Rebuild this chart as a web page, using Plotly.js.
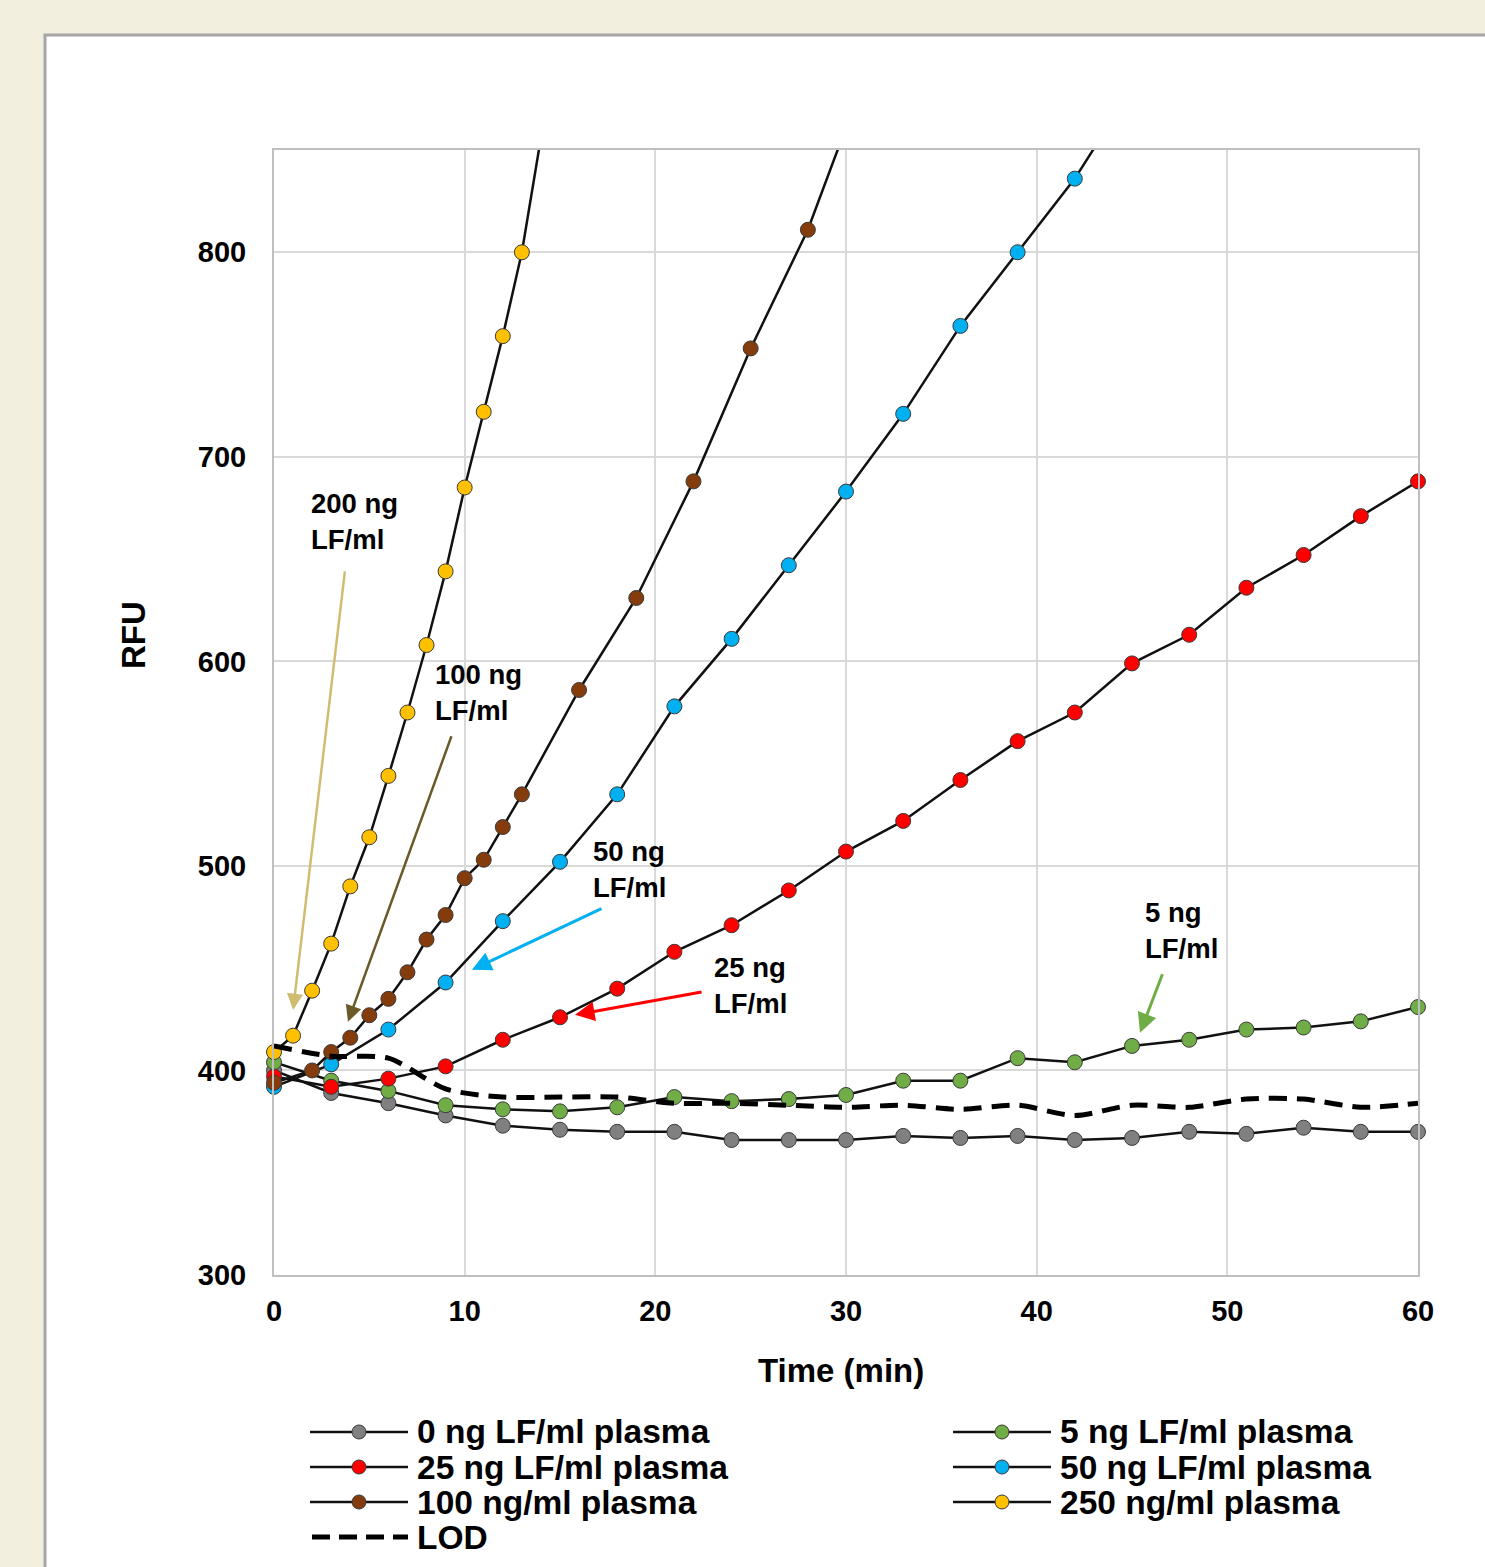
<!DOCTYPE html>
<html>
<head>
<meta charset="utf-8">
<script src="https://cdn.plot.ly/plotly-3.0.1.min.js"></script>
<style>
html,body{margin:0;padding:0;background:#f3efdf;}
#chart{width:1485px;height:1567px;}
</style>
</head>
<body>
<div id="chart"></div>
<script>
// ---- data ----
const time3 = [0,3,6,9,12,15,18,21,24,27,30,33,36,39,42,45,48,51,54,57,60];
const time50 = [0,3,6,9,12,15,18,21,24,27,30,33,36,39,42,45];
const time100 = [0,2,3,4,5,6,7,8,9,10,11,12,13,16,19,22,25,28,31];
const time250 = [0,1,2,3,4,5,6,7,8,9,10,11,12,13,14];

const rfu0   = [400,389,384,378,373,371,370,370,366,366,366,368,367,368,366,367,370,369,372,370,370];
const rfu5   = [404,395,390,383,381,380,382,387,385,386,388,395,395,406,404,412,415,420,421,424,431];
const rfu25  = [397,392,396,402,415,426,440,458,471,488,507,522,542,561,575,599,613,636,652,671,688];
const rfu50  = [392,403,420,443,473,502,535,578,611,647,683,721,764,800,836,880];
const rfu100 = [394,400,409,416,427,435,448,464,476,494,503,519,535,586,631,688,753,811,886];
const rfu250 = [409,417,439,462,490,514,544,575,608,644,685,722,759,800,856];
const lod    = [412,407,406,391,387,387,387,384,384,383,382,383,381,383,378,383,382,386,386,382,384];

const seriesNames = ['0 ng LF/ml plasma','5 ng LF/ml plasma','25 ng LF/ml plasma','50 ng LF/ml plasma','100 ng/ml plasma','250 ng/ml plasma','LOD'];
const xTicks = [0,10,20,30,40,50,60];
const yTicks = [300,400,500,600,700,800];

// ---- styling ----
const Y_MAX = 850;
const FONT = 'Liberation Sans, Arial, sans-serif';
const colors = {c0:'#808080', c5:'#70ad47', c25:'#ff0000', c50:'#00b0f0', c100:'#843c0c', c250:'#ffc000'};

function series(x, y, name, color){
  return {
    type:'scatter', mode:'lines+markers', x:x, y:y, name:name,
    cliponaxis:false,
    line:{color:'#111111', width:2.5},
    marker:{color:color, opacity:1, size:y.map(v => v > Y_MAX ? 0 : 15), sizemode:'diameter', sizeref:1,
            line:{color:'#3a3a3a', width:1}},
    showlegend:false
  };
}

const traces = [
  series(time3, rfu0, seriesNames[0], colors.c0),
  series(time3, rfu5, seriesNames[1], colors.c5),
  series(time3, rfu25, seriesNames[2], colors.c25),
  series(time50, rfu50, seriesNames[3], colors.c50),
  series(time100, rfu100, seriesNames[4], colors.c100),
  series(time250, rfu250, seriesNames[5], colors.c250),
  {type:'scatter', mode:'lines', x:time3, y:lod, name:seriesNames[6],
   line:{color:'#000000', width:5, dash:'18px,10px', shape:'spline', smoothing:0.8}, showlegend:false}
];

// pixel -> paper helpers (plot area 274..1418 x, 150..1275 y)
const L=274, R=1418, T=150, B=1275;
const px = x => (x-L)/(R-L);
const py = y => (B-y)/(B-T);

const shapes = [
  // white panel with grey border
  {type:'rect', xref:'paper', yref:'paper', x0:px(45), x1:px(1530), y0:py(35), y1:py(1620),
   fillcolor:'#ffffff', line:{color:'#a6a6a6', width:3}, layer:'below'}
];
const annotations = [];

// custom legend
const legendRows = [
  {name:seriesNames[0], color:colors.c0, col:0, row:0},
  {name:seriesNames[2], color:colors.c25, col:0, row:1},
  {name:seriesNames[4], color:colors.c100, col:0, row:2},
  {name:seriesNames[6], color:null, col:0, row:3},
  {name:seriesNames[1], color:colors.c5, col:1, row:0},
  {name:seriesNames[3], color:colors.c50, col:1, row:1},
  {name:seriesNames[5], color:colors.c250, col:1, row:2}
];
legendRows.forEach(e => {
  const x0 = e.col===0 ? 310 : 953;
  const yy = 1432 + 35*e.row;
  if (e.color) {
    shapes.push({type:'line', xref:'paper', yref:'paper', x0:px(x0), x1:px(x0+98), y0:py(yy), y1:py(yy),
      line:{color:'#111111', width:2.5}});
    shapes.push({type:'circle', xref:'paper', yref:'paper', x0:px(x0+42), x1:px(x0+56), y0:py(yy+7), y1:py(yy-7),
      fillcolor:e.color, line:{color:'#3a3a3a', width:1}});
  } else {
    shapes.push({type:'line', xref:'paper', yref:'paper', x0:px(x0+2), x1:px(x0+98), y0:py(yy), y1:py(yy),
      line:{color:'#000000', width:5, dash:'18px,9px'}});
  }
  annotations.push({xref:'paper', yref:'paper', x:px(x0+105), y:py(yy), xanchor:'left', yanchor:'middle',
    text:e.name, showarrow:false, font:{family:FONT, size:33.5, color:'#000', weight:700}});
});

// in-plot labels with arrows
const labels = [
  {text:'200 ng<br>LF/ml', lx:309, ly:521, hx:1.0, hy:429.6, ax:52, ay:-440, color:'#d1bd72', w:2.5},
  {text:'100 ng<br>LF/ml', lx:433, ly:692, hx:3.88, hy:423.8, ax:104, ay:-287, color:'#6b5a28', w:2.5},
  {text:'50 ng<br>LF/ml', lx:591, ly:869, hx:10.38, hy:449.2, ax:131, ay:-62, color:'#00b0f0', w:3},
  {text:'25 ng<br>LF/ml', lx:712, ly:985, hx:15.79, hy:427.2, ax:128, ay:-23, color:'#ff0000', w:3},
  {text:'5 ng<br>LF/ml', lx:1143, ly:930, hx:45.42, hy:418.4, ax:23, ay:-60, color:'#70ad47', w:3}
];
labels.forEach(a => {
  annotations.push({xref:'paper', yref:'paper', x:px(a.lx), y:py(a.ly), xanchor:'left', yanchor:'middle',
    align:'left', text:a.text, showarrow:false, font:{family:FONT, size:27.5, color:'#000', weight:700}});
  annotations.push({xref:'x', yref:'y', x:a.hx, y:a.hy, ax:a.ax, ay:a.ay, text:'', showarrow:true,
    arrowhead:2, arrowsize:1.3, arrowwidth:a.w, arrowcolor:a.color, standoff:0});
});

// axis titles placed as in the reference
annotations.push({xref:'paper', yref:'paper', x:px(133), y:py(635), xanchor:'center', yanchor:'middle',
  text:'RFU', textangle:-90, showarrow:false, font:{family:FONT, size:33, color:'#000', weight:700}});
annotations.push({xref:'paper', yref:'paper', x:px(841), y:py(1370), xanchor:'center', yanchor:'middle',
  text:'Time (min)', showarrow:false, font:{family:FONT, size:33, color:'#000', weight:700}});

const layout = {
  width:1485, height:1567,
  paper_bgcolor:'#f3efdf', plot_bgcolor:'#ffffff',
  margin:{l:L, r:1485-R, t:T, b:1567-B, pad:0},
  font:{family:FONT, color:'#000'},
  showlegend:false,
  xaxis:{range:[0,60], tickvals:xTicks, ticktext:xTicks.map(String), ticks:'', ticklabelstandoff:9,
    showgrid:true, gridcolor:'#d9d9d9', gridwidth:2, zeroline:false,
    showline:true, mirror:true, linecolor:'#bfbfbf', linewidth:2,
    tickfont:{family:FONT, size:29, color:'#000', weight:700}},
  yaxis:{range:[300,Y_MAX], tickvals:yTicks, ticktext:yTicks.map(String), ticks:'', ticklabelstandoff:20,
    showgrid:true, gridcolor:'#d9d9d9', gridwidth:2, zeroline:false,
    showline:true, mirror:true, linecolor:'#bfbfbf', linewidth:2,
    tickfont:{family:FONT, size:29, color:'#000', weight:700}},
  shapes:shapes,
  annotations:annotations
};

Plotly.newPlot('chart', traces, layout, {displayModeBar:false, staticPlot:true});
</script>
</body>
</html>
